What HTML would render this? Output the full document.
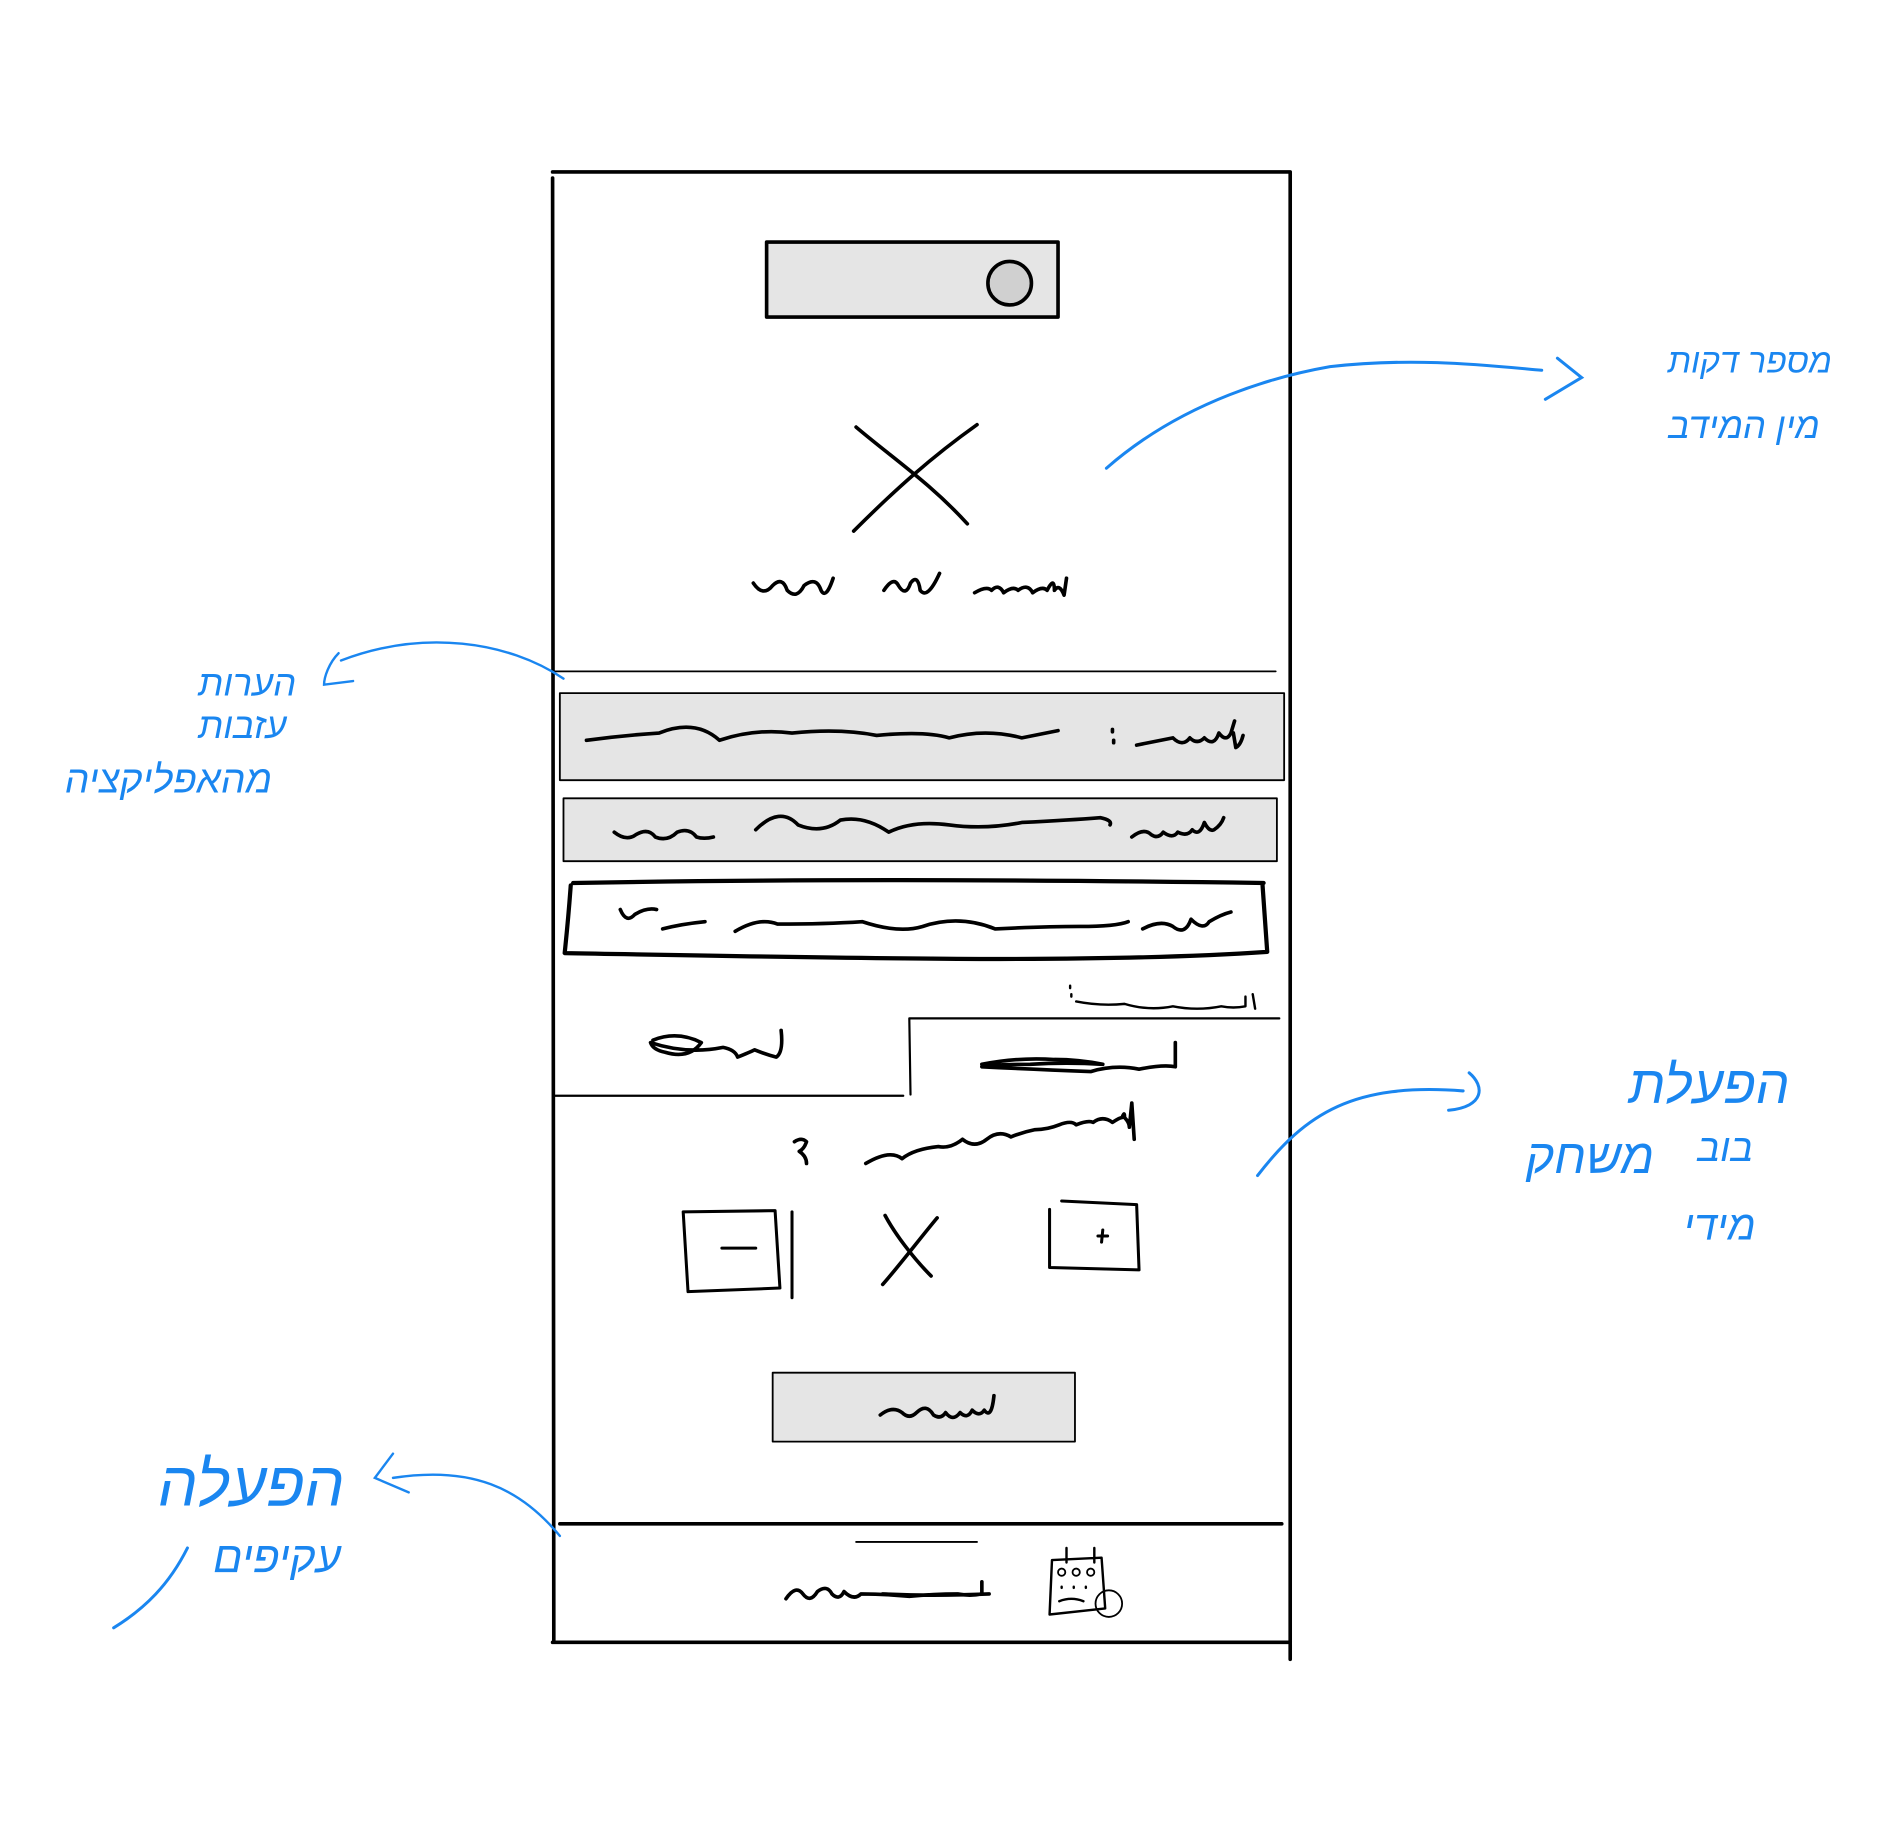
<!DOCTYPE html>
<html><head><meta charset="utf-8"><style>html,body{margin:0;padding:0;background:#fff}svg{display:block}
.t{font-family:"Liberation Sans","Noto Sans CJK SC",sans-serif;fill:#1a86f0;font-style:italic}</style></head>
<body>
<svg width="1896" height="1830" viewBox="0 0 1568 1513" xmlns="http://www.w3.org/2000/svg">
<rect width="1568" height="1513" fill="#fff"/>
<g fill="none" stroke="#000" stroke-width="3" stroke-linecap="round" stroke-linejoin="round">
<path d="M457 142 L1067 142 M457 147 L458 1358 M1067 142 L1067 1372 M457 1358 L1067 1358"/>
<rect x="634" y="200" width="241" height="62" fill="#e5e5e5"/>
<circle cx="835" cy="234" r="18" fill="#d0d0d0"/>
<path d="M708 353 C740 380 770 400 800 433 M808 351 C770 378 740 405 706 439"/>
<path d="M623 482 q8 12 16 2 q8 -8 12 4 q8 8 14 -4 q10 -8 14 4 q4 8 10 -10"/>
<path d="M731 488 q8 -12 12 -4 q6 10 10 -2 q6 -8 8 6 q6 8 16 -14"/>
<path d="M806 490 q10 -6 14 -2 q6 -6 10 2 q8 -6 12 -2 q8 -6 12 2 q8 -6 12 -2 q6 -12 6 0 q4 -6 8 4 l2 -14"/>
<path d="M458 555 L1055 555" stroke-width="1.5"/>
<rect x="463" y="573" width="599" height="72" fill="#e5e5e5" stroke-width="1.5"/>
<path d="M485 612 q30 -4 60 -6 q30 -12 50 6 q30 -10 60 -6 q40 -4 70 2 q40 -4 60 2 q30 -8 60 0 q20 -4 30 -6"/>
<path d="M920 603 l0 2 M921 612 l0 2 M940 616 q20 -4 30 -6 q8 8 14 0 q6 6 12 0 q8 8 12 -4 q6 8 10 0 l3 -10 M1020 606 l2 12 q4 -2 6 -10"/>
<rect x="466" y="660" width="590" height="52" fill="#e5e5e5" stroke-width="1.5"/>
<path d="M508 688 q10 8 18 2 q10 -6 16 2 q10 4 18 -4 q10 -4 16 4 q6 2 14 0"/>
<path d="M625 686 q20 -20 35 -4 q20 8 35 -4 q20 -4 40 10 q20 -10 50 -6 q30 4 60 -2 q40 -2 65 -4 q10 2 8 6"/>
<path d="M936 692 q10 -8 16 -2 q6 4 10 -2 q8 6 12 0 q8 4 12 -2 q6 6 10 -6 q4 8 8 6 q6 -4 8 -10"/>
<path d="M474 730 C700 726 900 728 1045 730 M472 732 C470 760 468 778 467 788 C700 792 900 797 1048 787 M1044 730 L1048 787" stroke-width="3.5"/>
<path d="M513 752 q5 12 12 4 q10 -6 18 -4 M548 768 q15 -4 35 -6 M608 770 q20 -12 35 -6 q40 0 70 -2 q30 10 50 4 q30 -10 60 2 q40 -2 70 -2 q30 0 40 -4 M945 768 q15 -8 25 -2 q10 8 15 -6 q10 10 15 2 q10 -6 18 -8"/>
<path d="M885 815 l0 2 M886 822 l0 2 M890 828 q20 4 40 2 q20 6 40 2 q20 4 40 0 q10 2 20 0 l0 -8 M1036 822 l2 12" stroke-width="2"/>
<path d="M752 842 L1058 842 M752 842 L753 905 M458 906 L747 906" stroke-width="1.8"/>
<path d="M540 860 q20 -8 40 2 q-10 14 -30 8 q-10 -2 -12 -8 q30 10 60 4 q10 2 12 8 q10 -4 14 -6 q10 4 18 6 q6 -4 4 -22"/>
<path d="M812 880 q30 -6 60 -4 q20 0 40 4 q-30 -2 -60 0 q-30 0 -40 2 q40 2 90 4 q20 -6 40 -2 q20 -4 30 -2 l0 -20"/>
<path d="M657 944 q6 -4 10 0 q-2 6 -6 8 q6 4 6 10 M716 962 q20 -12 30 -4 q10 -8 30 -10 q10 2 20 -6 q10 8 20 0 q10 -8 20 -2 q10 -4 20 -6 q10 0 20 -4 q10 -4 14 0 q10 -4 14 -2 q8 -6 16 0 q6 -4 8 -4 q2 -6 2 0 q4 4 4 8 l2 -20 l2 30"/>
<path d="M565 1002 L641 1001 L645 1065 L569 1068 Z M655 1002 L655 1073 M597 1032 L625 1032" stroke-width="2.5"/>
<path d="M732 1005 C740 1020 755 1040 770 1055 M775 1007 C760 1025 745 1045 730 1062"/>
<path d="M878 993 L940 996 L942 1050 L868 1048 L868 1000 M908 1022 L916 1022 M912 1017 L911 1027" stroke-width="2.5"/>
<rect x="639" y="1135" width="250" height="57" fill="#e5e5e5" stroke-width="1.5"/>
<path d="M728 1170 q10 -8 18 -2 q6 6 12 0 q8 -8 14 2 q6 4 10 -2 q6 8 12 0 q6 6 10 -2 q6 6 10 0 q6 8 8 -12"/>
<path d="M463 1260 L1060 1260" stroke-width="3"/>
<path d="M708 1275 L808 1275" stroke-width="1.5"/>
<path d="M650 1322 q8 -12 14 -4 q6 8 12 -2 q8 -6 12 2 q6 6 10 -2 q8 8 14 2 q20 0 40 2 q20 -2 40 -2 q10 2 20 0 l0 -10 M730 1318 q40 2 88 0" stroke-width="3"/>
<path d="M870 1290 L911 1288 L914 1330 L868 1335 Z M882 1280 L882 1292 M905 1280 L905 1292" stroke-width="2"/>
<circle cx="878" cy="1300" r="3" stroke-width="1.5"/><circle cx="890" cy="1300" r="3" stroke-width="1.5"/><circle cx="902" cy="1300" r="3" stroke-width="1.5"/>
<path d="M878 1312 l0 1 M888 1312 l0 1 M898 1312 l0 1 M876 1324 q10 -4 20 0" stroke-width="2"/>
<circle cx="917" cy="1326" r="11" stroke-width="1.5"/>
</g>
<g fill="none" stroke="#1a86f0" stroke-width="2.5" stroke-linecap="round">
<path d="M915 387 C980 330 1060 310 1100 303 C1170 295 1230 302 1275 306"/>
<path d="M1288 296 L1308 312 L1278 330"/>
<path d="M466 561 C420 530 350 520 282 546 M280 540 C272 548 268 560 268 566 L292 563" stroke-width="2"/>
<path d="M1040 972 C1080 920 1120 895 1210 902 M1215 887 C1228 898 1228 915 1198 918"/>
<path d="M463 1270 C430 1230 390 1212 325 1222 M325 1202 L310 1222 L338 1234" stroke-width="2"/>
<path d="M94 1346 C120 1330 140 1310 155 1280"/>
</g>
<text class="t" x="1515" y="308" font-size="28" direction="rtl">מספר דקות</text>
<text class="t" x="1505" y="362" font-size="30" direction="rtl">מין המידב</text>
<text class="t" x="245" y="575" font-size="30" direction="rtl">הערות</text>
<text class="t" x="237" y="610" font-size="30" direction="rtl">עזבות</text>
<text class="t" x="225" y="655" font-size="32" direction="rtl">מהאפליקציה</text>
<text class="t" x="1480" y="912" font-size="44" direction="rtl">הפעלת</text>
<text class="t" x="1450" y="960" font-size="32" direction="rtl">בוב</text>
<text class="t" x="1368" y="970" font-size="40" direction="rtl">משחק</text>
<text class="t" x="1452" y="1025" font-size="34" direction="rtl">מידי</text>
<text class="t" x="285" y="1245" font-size="52" direction="rtl">הפעלה</text>
<text class="t" x="282" y="1300" font-size="36" direction="rtl">עקיפים</text>
</svg>
</body></html>
